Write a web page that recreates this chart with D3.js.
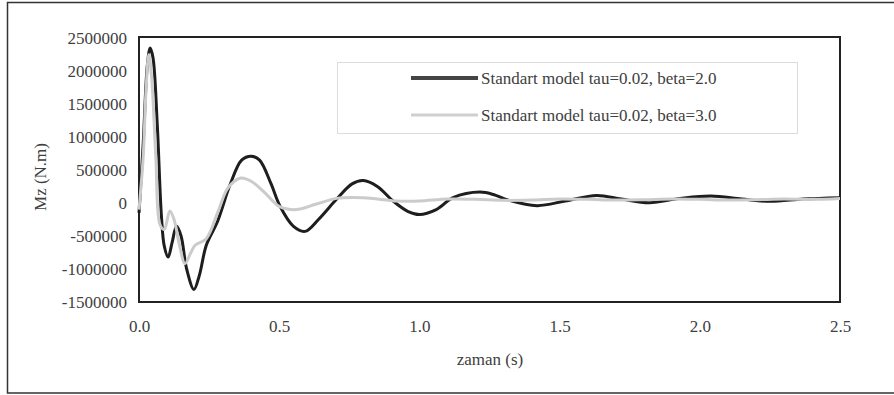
<!DOCTYPE html>
<html><head><meta charset="utf-8">
<script src="https://cdn.jsdelivr.net/npm/d3@7"></script>
<style>body{margin:0;background:#fff}svg{display:block}</style>
</head><body>
<svg id="c" width="894" height="395"></svg>
<script>
const seriesNames = ["Standart model tau=0.02, beta=2.0", "Standart model tau=0.02, beta=3.0"];
const xTicks = [0, 0.5, 1.0, 1.5, 2.0, 2.5];
const yTicks = [-1500000, -1000000, -500000, 0, 500000, 1000000, 1500000, 2000000, 2500000];
const blackT = [0,0.015,0.03,0.04,0.05,0.065,0.08,0.09,0.104,0.118,0.134,0.15,0.17,0.196,0.215,0.24,0.28,0.325,0.366,0.4,0.43,0.47,0.503,0.55,0.592,0.64,0.705,0.76,0.8,0.85,0.906,0.96,1.0,1.06,1.12,1.216,1.27,1.32,1.42,1.52,1.632,1.72,1.82,1.93,2.04,2.15,2.25,2.37,2.5];
const blackV = [-150000,900000,2100000,2350000,2200000,1200000,-200000,-650000,-820000,-600000,-350000,-500000,-1000000,-1310000,-1100000,-640000,-280000,280000,650000,710000,650000,300000,-50000,-350000,-430000,-250000,60000,290000,340000,250000,30000,-130000,-175000,-100000,80000,165000,120000,40000,-40000,30000,115000,60000,5000,70000,105000,60000,25000,60000,80000];
const grayT = [0,0.015,0.025,0.035,0.045,0.06,0.075,0.09,0.11,0.125,0.145,0.164,0.185,0.2,0.24,0.28,0.313,0.34,0.365,0.4,0.45,0.5,0.56,0.63,0.705,0.8,0.92,1.0,1.1,1.2,1.3,1.4,1.5,1.6,1.7,1.8,1.9,2.0,2.1,2.2,2.3,2.4,2.5];
const grayV = [-100000,700000,1700000,2250000,1900000,700000,-330000,-400000,-120000,-250000,-650000,-920000,-750000,-640000,-540000,-150000,200000,330000,380000,330000,150000,-50000,-100000,-20000,70000,80000,30000,30000,60000,55000,40000,45000,60000,55000,45000,50000,60000,55000,45000,50000,60000,55000,70000];

const svg = d3.select("#c");
const font = "'Liberation Serif','Times New Roman',serif";
const tc = "#404040";
const L = 139, R = 840, T = 38, B = 302;
const x = d3.scaleLinear().domain([0, 2.5]).range([L, R]);
const y = d3.scaleLinear().domain([-1500000, 2500000]).range([B, T]);

// outer border
svg.append("path").attr("d", `M900,2.5 H7.5 V393 H900`).attr("fill","none").attr("stroke","#333").attr("stroke-width",1.5);

// axes labels
const yAxis = d3.axisLeft(y).tickValues(yTicks).tickSize(0).tickPadding(12).tickFormat(d => String(d));
const gy = svg.append("g").attr("transform",`translate(${L},0)`).call(yAxis);
gy.select(".domain").remove();
gy.selectAll("text").attr("font-family",font).attr("font-size",17).attr("fill",tc);

const xAxis = d3.axisBottom(x).tickValues(xTicks).tickSize(0).tickPadding(18).tickFormat(d3.format(".1f"));
const gx = svg.append("g").attr("transform",`translate(0,${B})`).call(xAxis);
gx.select(".domain").remove();
gx.selectAll("text").attr("font-family",font).attr("font-size",17).attr("fill",tc);

// plot frame
svg.append("rect").attr("x",L).attr("y",T-1).attr("width",R-L).attr("height",B-T+1)
  .attr("fill","none").attr("stroke","#222").attr("stroke-width",2);

// titles
svg.append("text").attr("x",490).attr("y",365).attr("text-anchor","middle")
  .attr("font-family",font).attr("font-size",17).attr("fill",tc).text("zaman (s)");
svg.append("text").attr("transform","translate(46,177) rotate(-90)").attr("text-anchor","middle")
  .attr("font-family",font).attr("font-size",17).attr("fill",tc).text("Mz (N.m)");

// lines
const line = d3.line().x(d=>x(d[0])).y(d=>y(d[1])).curve(d3.curveCatmullRom.alpha(0.5));
const grayData = grayT.map((t,i)=>[t,grayV[i]]);
const blackData = blackT.map((t,i)=>[t,blackV[i]]);
svg.append("path").datum(blackData).attr("d",line).attr("fill","none").attr("stroke","#1e1e1e").attr("stroke-width",3);
svg.append("path").datum(grayData).attr("d",line).attr("fill","none").attr("stroke","#cbcbcb").attr("stroke-width",3);

// legend
svg.append("rect").attr("x",337.5).attr("y",62.5).attr("width",460).attr("height",71)
  .attr("fill","#fff").attr("stroke","#dcdcdc").attr("stroke-width",1);
const legColors = ["#444","#cfcfcf"];
const legY = [78, 115];
seriesNames.forEach((n,i)=>{
  svg.append("line").attr("x1",411).attr("x2",478).attr("y1",legY[i]).attr("y2",legY[i])
    .attr("stroke",legColors[i]).attr("stroke-width",i===0?4:3);
  svg.append("text").attr("x",481).attr("y",legY[i]+6).attr("font-family",font).attr("font-size",17)
    .attr("fill",tc).text(n);
});
</script>
</body></html>
